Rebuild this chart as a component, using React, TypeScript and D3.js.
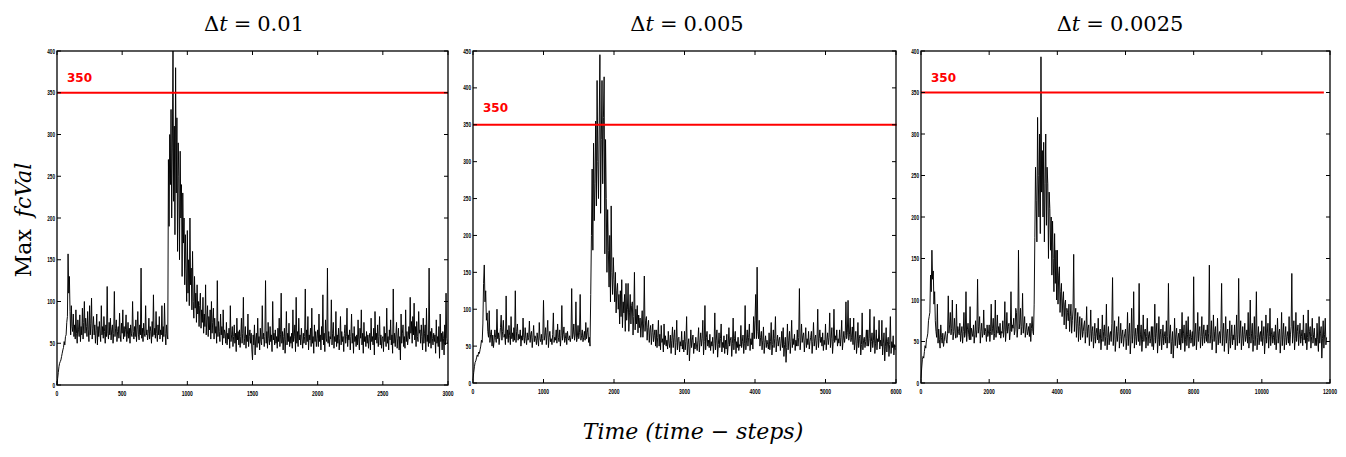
import * as d3 from "d3";

// max fcVal per time step (one value every `step` steps)
const fc001 = [
  0, 8, 15, 22, 26, 28, 30, 34, 38, 42, 45, 52, 48, 58, 60, 75, 82, 157, 110, 130,
  88, 60, 95, 70, 64, 85, 58, 72, 55, 90, 62, 50, 78, 66, 58, 84, 52, 70, 60, 92,
  55, 75, 100, 62, 80, 70, 58, 88, 66, 52, 95, 60, 74, 104, 55, 68, 82, 60, 72, 50,
  65, 85, 48, 70, 58, 76, 62, 52, 95, 60, 70, 56, 82, 64, 50, 72, 58, 118, 62, 55,
  75, 60, 80, 54, 66, 72, 50, 62, 112, 58, 68, 78, 52, 64, 70, 56, 86, 60, 52, 74,
  62, 90, 55, 70, 58, 66, 84, 52, 60, 75, 56, 68, 50, 72, 62, 58, 100, 64, 55, 70,
  58, 78, 52, 66, 88, 60, 54, 72, 60, 140, 56, 68, 52, 74, 62, 58, 95, 60, 66, 54,
  62, 80, 55, 70, 64, 50, 76, 58, 108, 60, 68, 56, 88, 62, 52, 72, 60, 82, 55, 66,
  60, 95, 52, 70, 58, 98, 62, 48, 72, 60, 55, 270, 190, 300, 240, 330, 200, 285, 400, 220,
  310, 180, 380, 230, 320, 160, 290, 250, 150, 280, 200, 240, 130, 230, 170, 200, 120, 180, 140, 100,
  185, 110, 150, 95, 200, 120, 140, 90, 160, 100, 80, 130, 92, 110, 75, 120, 85, 100, 70, 95,
  110, 68, 90, 75, 105, 62, 85, 70, 120, 60, 78, 95, 58, 82, 66, 90, 55, 100, 62, 75,
  92, 55, 80, 62, 70, 50, 125, 58, 76, 64, 52, 85, 60, 70, 48, 90, 56, 66, 62, 50,
  75, 48, 62, 55, 68, 44, 95, 52, 60, 70, 46, 58, 72, 50, 62, 40, 80, 54, 64, 48,
  66, 45, 58, 80, 50, 62, 105, 48, 56, 70, 44, 60, 52, 85, 46, 58, 66, 50, 62, 42,
  30, 60, 48, 72, 36, 55, 62, 45, 80, 50, 58, 42, 68, 52, 48, 95, 55, 62, 46, 58,
  125, 50, 64, 44, 75, 56, 48, 70, 52, 60, 40, 100, 54, 62, 48, 66, 50, 58, 44, 68,
  52, 80, 46, 60, 110, 50, 64, 42, 58, 68, 38, 55, 88, 48, 62, 52, 74, 46, 58, 50,
  62, 44, 90, 52, 58, 72, 40, 105, 50, 64, 46, 80, 54, 60, 48, 68, 55, 44, 62, 50,
  58, 115, 48, 66, 52, 82, 42, 60, 54, 68, 46, 92, 50, 58, 38, 72, 52, 64, 46, 56,
  66, 46, 85, 52, 60, 42, 70, 54, 108, 48, 62, 40, 78, 56, 52, 140, 50, 64, 46, 58,
  55, 102, 48, 62, 75, 44, 58, 52, 88, 46, 60, 50, 68, 42, 56, 82, 48, 64, 52, 58,
  40, 62, 72, 50, 58, 92, 46, 60, 54, 66, 42, 58, 85, 50, 62, 38, 70, 52, 58, 46,
  60, 48, 78, 54, 42, 68, 56, 90, 48, 62, 38, 75, 52, 58, 46, 64, 50, 60, 44, 56,
  62, 42, 80, 52, 58, 48, 68, 36, 88, 54, 62, 50, 72, 46, 58, 82, 48, 60, 44, 56,
  58, 40, 70, 52, 62, 46, 92, 50, 58, 42, 66, 54, 78, 48, 60, 38, 115, 50, 62, 46,
  60, 75, 44, 56, 68, 42, 58, 30, 85, 50, 62, 72, 46, 58, 44, 90, 52, 64, 48, 56,
  70, 55, 105, 62, 76, 50, 82, 60, 98, 54, 70, 46, 76, 58, 52, 88, 62, 66, 50, 72,
  58, 42, 80, 50, 62, 72, 40, 92, 52, 60, 46, 140, 50, 64, 44, 68, 56, 48, 62, 52,
  60, 38, 78, 50, 58, 46, 70, 32, 85, 52, 62, 42, 64, 56, 36, 72, 48, 110, 56, 50,
];

const fc0005 = [
  5, 14, 22, 28, 30, 34, 38, 36, 42, 40, 45, 50, 58, 55, 80, 135, 160, 110, 125, 85,
  95, 70, 62, 98, 55, 66, 72, 50, 65, 48, 58, 72, 62, 55, 100, 60, 68, 52, 62, 75,
  92, 58, 70, 85, 62, 66, 52, 118, 60, 72, 55, 78, 64, 52, 90, 60, 68, 56, 75, 58,
  125, 55, 70, 80, 58, 66, 60, 72, 50, 64, 58, 88, 62, 54, 75, 60, 52, 68, 58, 62,
  84, 55, 66, 70, 48, 62, 78, 56, 64, 60, 52, 68, 58, 50, 82, 60, 56, 66, 52, 60,
  112, 58, 64, 75, 52, 68, 85, 48, 62, 70, 56, 60, 52, 66, 95, 55, 62, 58, 72, 54,
  80, 62, 56, 72, 50, 64, 105, 58, 66, 76, 55, 60, 68, 52, 70, 60, 58, 64, 56, 62,
  128, 60, 66, 80, 58, 65, 110, 56, 62, 78, 60, 68, 120, 58, 64, 72, 56, 62, 70, 58,
  82, 60, 68, 75, 55, 62, 50, 120, 200, 290, 180, 325, 220, 270, 355, 240, 410, 300, 250, 350,
  445, 230, 330, 410, 270, 360, 415, 175, 330, 250, 150, 235, 180, 130, 200, 110, 240, 150, 120, 170,
  140, 110, 150, 95, 125, 135, 100, 120, 80, 125, 90, 140, 75, 110, 95, 120, 70, 135, 85, 100,
  135, 70, 95, 120, 80, 105, 110, 65, 90, 150, 72, 100, 80, 105, 68, 92, 75, 88, 62, 80,
  98, 62, 80, 145, 70, 85, 90, 58, 75, 85, 55, 72, 78, 52, 68, 80, 56, 64, 72, 50,
  72, 48, 62, 85, 50, 66, 45, 78, 55, 60, 42, 80, 52, 64, 50, 58, 46, 70, 54, 48,
  65, 40, 58, 76, 48, 62, 72, 38, 55, 85, 45, 60, 62, 42, 56, 50, 70, 46, 58, 42,
  70, 45, 56, 90, 38, 52, 60, 30, 50, 72, 48, 58, 65, 40, 54, 46, 62, 50, 44, 58,
  75, 42, 55, 68, 50, 60, 85, 38, 56, 105, 45, 62, 70, 50, 58, 48, 66, 44, 56, 50,
  62, 40, 54, 95, 45, 58, 72, 35, 52, 68, 48, 60, 80, 42, 55, 48, 64, 40, 58, 46,
  66, 38, 52, 75, 50, 58, 62, 36, 54, 88, 45, 60, 70, 40, 56, 48, 62, 44, 52, 50,
  78, 48, 56, 65, 40, 54, 105, 45, 58, 72, 50, 62, 80, 44, 60, 52, 68, 46, 90, 60,
  85, 120, 60, 157, 70, 60, 85, 50, 62, 70, 45, 58, 76, 40, 55, 64, 48, 58, 52, 46,
  68, 45, 56, 82, 38, 52, 72, 48, 60, 90, 42, 56, 65, 50, 58, 62, 44, 54, 70, 48,
  75, 36, 52, 62, 28, 48, 80, 45, 58, 70, 40, 56, 85, 48, 60, 52, 66, 44, 58, 50,
  72, 50, 62, 128, 45, 58, 80, 55, 64, 68, 42, 58, 75, 48, 60, 52, 70, 46, 56, 62,
  70, 40, 56, 82, 50, 60, 65, 45, 58, 100, 48, 60, 72, 55, 62, 50, 68, 44, 58, 52,
  80, 45, 58, 68, 52, 62, 95, 48, 60, 75, 40, 56, 100, 55, 64, 58, 72, 50, 60, 54,
  72, 50, 62, 85, 45, 58, 70, 55, 64, 110, 60, 68, 112, 58, 66, 88, 56, 62, 76, 52,
  88, 45, 58, 70, 40, 54, 82, 48, 60, 65, 38, 52, 95, 45, 58, 62, 48, 56, 72, 50,
  72, 50, 60, 100, 42, 56, 68, 48, 58, 90, 40, 54, 72, 45, 60, 56, 85, 46, 58, 50,
  85, 38, 54, 68, 30, 50, 75, 42, 56, 62, 36, 52, 90, 40, 56, 48, 64, 38, 52, 45,
];

const fc00025 = [
  5, 18, 28, 32, 30, 38, 45, 42, 52, 55, 60, 75, 80, 85, 130, 110, 160, 125, 135, 95,
  110, 75, 62, 55, 95, 48, 65, 52, 42, 70, 55, 48, 60, 44, 50, 58, 62, 52, 48, 60,
  105, 60, 70, 85, 58, 66, 100, 52, 62, 78, 60, 54, 95, 55, 68, 62, 58, 72, 50, 60,
  68, 48, 62, 85, 55, 60, 110, 50, 64, 72, 58, 52, 92, 52, 66, 60, 56, 70, 48, 58,
  75, 55, 64, 125, 60, 68, 80, 48, 62, 72, 55, 60, 88, 58, 66, 62, 50, 70, 56, 60,
  70, 50, 62, 95, 58, 66, 78, 52, 60, 100, 55, 64, 82, 60, 68, 58, 72, 54, 62, 60,
  75, 55, 64, 98, 50, 62, 85, 60, 68, 72, 52, 62, 110, 62, 70, 66, 78, 58, 64, 90,
  85, 55, 66, 160, 65, 72, 90, 58, 68, 108, 60, 70, 80, 55, 64, 72, 58, 62, 68, 56,
  72, 50, 66, 80, 62, 58, 95, 175, 260, 220, 170, 320, 250, 200, 300, 180, 393, 230, 280, 200,
  290, 170, 240, 300, 190, 260, 240, 150, 230, 210, 160, 200, 130, 195, 150, 110, 180, 120, 160, 100,
  160, 95, 130, 140, 85, 110, 120, 80, 100, 110, 70, 95, 100, 65, 90, 85, 75, 95, 62, 80,
  95, 60, 75, 88, 155, 62, 80, 90, 55, 72, 85, 50, 68, 80, 52, 65, 78, 55, 62, 70,
  75, 48, 62, 92, 55, 66, 70, 45, 60, 88, 50, 62, 68, 42, 56, 72, 48, 60, 66, 52,
  78, 48, 58, 65, 40, 54, 82, 50, 62, 70, 45, 56, 95, 40, 55, 68, 46, 58, 62, 50,
  72, 127, 45, 60, 75, 38, 52, 68, 50, 62, 80, 42, 56, 72, 48, 58, 64, 44, 54, 60,
  65, 40, 54, 85, 45, 60, 72, 35, 52, 90, 48, 60, 110, 42, 56, 66, 46, 58, 70, 50,
  120, 45, 58, 70, 38, 52, 82, 50, 62, 65, 42, 56, 78, 45, 58, 62, 48, 54, 68, 44,
  68, 40, 55, 95, 48, 60, 72, 36, 52, 80, 45, 58, 65, 40, 54, 70, 46, 56, 62, 48,
  75, 42, 56, 120, 48, 60, 70, 35, 50, 62, 30, 48, 78, 45, 58, 66, 42, 54, 60, 46,
  65, 40, 54, 85, 48, 60, 70, 38, 52, 75, 45, 58, 80, 42, 56, 64, 48, 55, 62, 44,
  128, 45, 58, 72, 40, 54, 85, 50, 62, 68, 42, 56, 80, 45, 58, 70, 48, 56, 64, 50,
  70, 48, 60, 142, 48, 58, 75, 40, 54, 82, 50, 62, 68, 36, 52, 78, 46, 58, 62, 48,
  66, 120, 45, 60, 72, 38, 54, 80, 48, 60, 65, 35, 50, 75, 42, 56, 70, 46, 58, 52,
  70, 40, 55, 82, 45, 58, 126, 48, 60, 75, 40, 54, 68, 45, 58, 72, 50, 56, 64, 48,
  85, 42, 56, 100, 48, 60, 72, 38, 52, 80, 45, 58, 110, 40, 55, 68, 46, 58, 62, 50,
  75, 45, 56, 68, 35, 52, 82, 48, 60, 72, 42, 56, 90, 45, 58, 66, 48, 55, 62, 46,
  70, 40, 54, 78, 48, 60, 65, 36, 52, 85, 45, 58, 72, 40, 55, 68, 46, 56, 62, 48,
  80, 45, 58, 68, 132, 48, 60, 75, 40, 54, 85, 50, 62, 70, 45, 58, 72, 48, 56, 64,
  45, 82, 52, 60, 48, 72, 40, 55, 88, 50, 62, 68, 42, 56, 78, 48, 58, 66, 45, 54,
  45, 72, 52, 38, 80, 48, 60, 68, 30, 54, 75, 42, 58, 78, 46, 55,
];

const dtLabels = ["0.01", "0.005", "0.0025"];
const threshold = 350;
const xTicks001 = [0, 500, 1000, 1500, 2000, 2500, 3000];
const xTicks0005 = [0, 1000, 2000, 3000, 4000, 5000, 6000];
const xTicks00025 = [0, 2000, 4000, 6000, 8000, 10000, 12000];
const yTicks400 = [0, 50, 100, 150, 200, 250, 300, 350, 400];
const yTicks450 = [0, 50, 100, 150, 200, 250, 300, 350, 400, 450];

const panels = [
  { data: fc001, step: 5, xMax: 3000, yMax: 400, xTicks: xTicks001, yTicks: yTicks400,
    box: [57, 448, 51, 385], redEnd: 3000, labelY: 82, titleX: 254 },
  { data: fc0005, step: 10, xMax: 6000, yMax: 450, xTicks: xTicks0005, yTicks: yTicks450,
    box: [473, 896, 51, 383], redEnd: 6010, labelY: 112, titleX: 687 },
  { data: fc00025, step: 20, xMax: 12000, yMax: 400, xTicks: xTicks00025, yTicks: yTicks400,
    box: [921, 1330, 51, 383], redEnd: 11820, labelY: 82, titleX: 1120 },
];

const tickFont = "'Liberation Sans Narrow', 'Liberation Sans', sans-serif";
const mathFont = "'DejaVu Serif', 'Liberation Serif', serif";

function Panel({ p, i }: { p: (typeof panels)[number]; i: number }) {
  const [l, r, t, b] = p.box;
  const x = d3.scaleLinear().domain([0, p.xMax]).range([l, r]);
  const y = d3.scaleLinear().domain([0, p.yMax]).range([b, t]);
  const line = d3.line<number>().x((_, k) => x(k * p.step)).y(d => y(d));
  const tl = 4;
  return (
    <g>
      <text x={p.titleX} y={31} textAnchor="middle" fontFamily={mathFont} fontSize={21}>
        Δ<tspan fontStyle="italic">t</tspan><tspan dx={6}>=</tspan><tspan dx={6}>{dtLabels[i]}</tspan>
      </text>
      <path d={line(p.data) ?? ""} fill="none" stroke="#000" strokeWidth={0.95} />
      <line x1={x(0)} x2={x(p.redEnd)} y1={y(threshold)} y2={y(threshold)} stroke="#ff0000" strokeWidth={2} />
      <text x={l + 10} y={p.labelY} fill="#ff0000" fontFamily="'DejaVu Sans', sans-serif"
        fontWeight="bold" fontSize={12}>{threshold}</text>
      <rect x={l} y={t} width={r - l} height={b - t} fill="none" stroke="#000" strokeWidth={1.3} />
      {p.xTicks.map(v => (
        <g key={"x" + v}>
          <line x1={x(v)} x2={x(v)} y1={b} y2={b - tl} stroke="#000" />
          <line x1={x(v)} x2={x(v)} y1={t} y2={t + tl} stroke="#000" />
          <text x={x(v)} y={b + 11} textAnchor="middle" fontFamily={tickFont} fontWeight="bold"
            fontSize={7.5} textLength={String(v).length * 2.8} lengthAdjust="spacingAndGlyphs">{v}</text>
        </g>
      ))}
      {p.yTicks.map(v => (
        <g key={"y" + v}>
          <line x1={l} x2={l + tl} y1={y(v)} y2={y(v)} stroke="#000" />
          <line x1={r} x2={r - tl} y1={y(v)} y2={y(v)} stroke="#000" />
          <text x={l - 2} y={y(v) + 2.5} textAnchor="end" fontFamily={tickFont} fontWeight="bold"
            fontSize={7.5} textLength={String(v).length * 2.6} lengthAdjust="spacingAndGlyphs">{v}</text>
        </g>
      ))}
    </g>
  );
}

export default function App() {
  return (
    <svg width={1346} height={457} style={{ position: "absolute", left: 0, top: 0, background: "#fff" }}>
      {panels.map((p, i) => <Panel key={i} p={p} i={i} />)}
      <text transform="translate(31,220) rotate(-90)" textAnchor="middle" fontFamily={mathFont} fontSize={22}>
        Max<tspan dx={12} fontStyle="italic">fcVal</tspan>
      </text>
      <text x={693} y={439} textAnchor="middle" fontFamily={mathFont} fontStyle="italic" fontSize={22}>
        Time (time − steps)
      </text>
    </svg>
  );
}
